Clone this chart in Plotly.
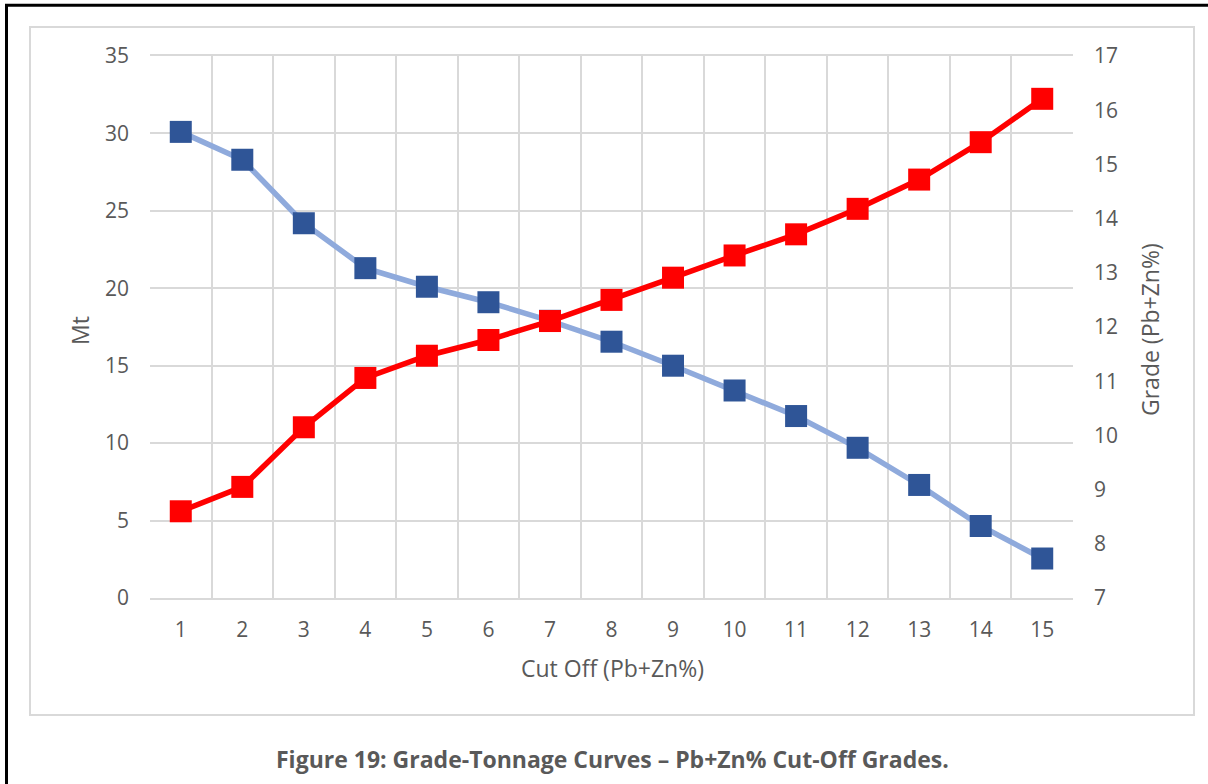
import plotly.graph_objects as go

# Grade-tonnage data per cut-off grade (Pb+Zn %)
cut_off = [str(c) for c in range(1, 16)]
tonnage_mt = [30.1, 28.3, 24.2, 21.3, 20.1, 19.1, 17.9, 16.55, 15.0, 13.4, 11.75, 9.7, 7.3, 4.65, 2.55]
grade_pct = [8.6, 9.05, 10.15, 11.06, 11.47, 11.76, 12.11, 12.5, 12.91, 13.32, 13.71, 14.18, 14.72, 15.41, 16.21]

W, H = 1208, 784
PL, PR, PT, PB = 150, 1073, 56, 598  # plot area edges in pixels

GRID = "#D9D9D9"
TXT = "#595959"
FONT = "Open Sans, Noto Sans, sans-serif"


def px(x):
    return (x - PL) / (PR - PL)


def py(y):
    return (PB - y) / (PB - PT)


fig = go.Figure()

fig.add_trace(go.Scatter(
    x=cut_off, y=tonnage_mt, name="Mt", mode="lines+markers",
    line=dict(color="#8FAADC", width=5.5),
    marker=dict(symbol="square", size=22, color="#2F5597", line=dict(width=0)),
    yaxis="y",
))
fig.add_trace(go.Scatter(
    x=cut_off, y=grade_pct, name="Grade", mode="lines+markers",
    line=dict(color="#FF0000", width=5.5),
    marker=dict(symbol="square", size=22, color="#FF0000", line=dict(width=0)),
    yaxis="y2",
))

shapes = [
    # chart area frame
    dict(type="rect", xref="paper", yref="paper",
         x0=px(30), x1=px(1194), y0=py(715), y1=py(27),
         line=dict(color=GRID, width=2), layer="below"),
    # page frame (left and top edges)
    dict(type="line", xref="paper", yref="paper",
         x0=px(6.5), x1=px(6.5), y0=py(4), y1=py(790),
         line=dict(color="black", width=3)),
    dict(type="line", xref="paper", yref="paper",
         x0=px(5), x1=px(1215), y0=py(5.3), y1=py(5.3),
         line=dict(color="black", width=3)),
]


def label(text, x, y, size, angle=0):
    return dict(text=text, xref="paper", yref="paper", x=px(x), y=py(y),
                xanchor="center", yanchor="middle", textangle=angle,
                showarrow=False, font=dict(size=size, color=TXT, family=FONT))


annotations = [
    label("Mt", 80, 331, 23, -90),
    label("Grade (Pb+Zn%)", 1150, 330, 23, -90),
    label("Cut Off (Pb+Zn%)", 612, 668, 23),
    label("<b>Figure 19: Grade-Tonnage Curves \u2013 Pb+Zn% Cut-Off Grades.</b>", 612, 759, 23),
]

fig.update_layout(
    width=W, height=H,
    margin=dict(l=PL, r=W - PR, t=PT, b=H - PB, pad=0),
    paper_bgcolor="white", plot_bgcolor="white",
    showlegend=False,
    font=dict(family=FONT, color=TXT, size=21),
    xaxis=dict(type="category", tickson="boundaries", showgrid=True,
               range=[-0.5, len(cut_off) - 0.5],
               gridcolor=GRID, gridwidth=1.8, ticks="", showline=True,
               linecolor=GRID, linewidth=1.8, mirror=True,
               ticklabelstandoff=12, tickfont=dict(size=21, color=TXT),
               zeroline=False, fixedrange=True),
    yaxis=dict(range=[0, 35], dtick=5, showgrid=True, gridcolor=GRID,
               gridwidth=1.8, ticks="", showline=False, zeroline=False,
               ticklabelstandoff=20, tickfont=dict(size=21, color=TXT)),
    yaxis2=dict(range=[7, 17], dtick=1, overlaying="y", side="right",
                showgrid=False, ticks="", showline=False, zeroline=False,
                ticklabelstandoff=20, tickfont=dict(size=21, color=TXT)),
    shapes=shapes,
    annotations=annotations,
)

fig.write_html("out.html")
